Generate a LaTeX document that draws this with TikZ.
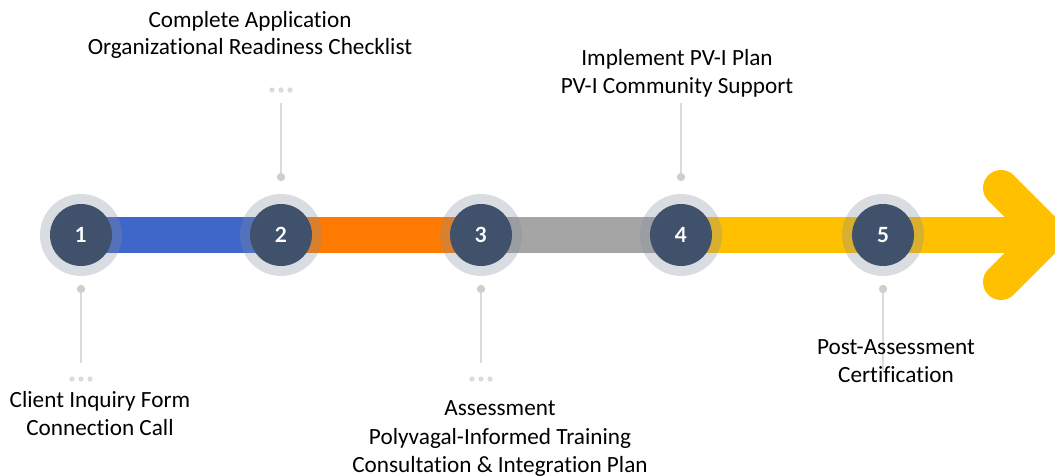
\documentclass[tikz,border=0pt]{standalone}
\usepackage{fontspec}
\setmainfont{Carlito}[Ligatures=NoCommon]
\newfontfamily\numfont{Lato}
\definecolor{cblue}{HTML}{3F67C9}
\definecolor{corange}{HTML}{FF7A00}
\definecolor{cgray}{HTML}{A5A5A5}
\definecolor{cyellow}{HTML}{FFC000}
\definecolor{cdark}{HTML}{40526B}
\definecolor{cring}{HTML}{828C9B}
\definecolor{cstem}{HTML}{DADADA}
\definecolor{cdot}{HTML}{CFCFCF}
\begin{document}
\begin{tikzpicture}[x=1bp,y=-1bp,
  ringnode/.style={circle,inner sep=0,minimum size=82bp,fill=cring,fill opacity=0.3},
  stepcircle/.style={circle,inner sep=0,minimum size=62bp,fill=cdark,text=white,
    font=\numfont\bfseries\fontsize{21}{21}\selectfont},
  stemline/.style={draw=cstem,line width=2.6bp},
  enddot/.style={fill=cdot},
  smalldot/.style={fill=cstem},
  label/.style={anchor=base,inner sep=0,text=black,font=\fontsize{23.3}{27}\selectfont}]
\useasboundingbox (0,0) rectangle (1055,476);
\begin{scope}
\clip (0,0) rectangle (1055,476);
\fill[cblue] (81,217) rectangle (281,253);
\fill[corange] (281,217) rectangle (481,253);
\fill[cgray] (481,217) rectangle (681,253);
\fill[cyellow] (681,217) rectangle (1030,253);
\draw[cyellow,line width=36bp,line cap=round,line join=miter] (1001,188) -- (1048,235) -- (1001,282);
\end{scope}
% rings and circles
\foreach \x in {81,281,481,681,883} \node[ringnode] at (\x,235) {};
\node[stepcircle] (s1) at (81,235) {1};
\node[stepcircle] (s2) at (281,235) {2};
\node[stepcircle] (s3) at (481,235) {3};
\node[stepcircle] (s4) at (681,235) {4};
\node[stepcircle] (s5) at (883,235) {5};
% stems
\coordinate (a1) at (81,289);  \coordinate (b1) at (81,363);
\coordinate (a2) at (281,177); \coordinate (b2) at (281,103);
\coordinate (a3) at (481,289); \coordinate (b3) at (481,363);
\coordinate (a4) at (681,177); \coordinate (b4) at (681,103);
\coordinate (a5) at (883,289); \coordinate (b5) at (883,370);
\foreach \i in {1,...,5} {
  \draw[stemline] (a\i) -- (b\i);
  \fill[enddot] (a\i) circle (4.2bp);
}
\foreach \x in {72,81,90} \fill[smalldot] (\x,379) circle (2.6bp);
\foreach \x in {272,281,290} \fill[smalldot] (\x,90) circle (2.6bp);
\foreach \x in {472,481,490} \fill[smalldot] (\x,379) circle (2.6bp);
% labels
\node[label] (t2a) at (250,28) {Complete Application};
\node[label] (t2b) at (250,55) {Organizational Readiness Checklist};
\node[label] (t4a) at (677,66) {Implement PV-I Plan};
\node[label] (t4b) at (677,94) {PV-I Community Support};
\node[label] (t1a) at (100,408) {Client Inquiry Form};
\node[label] (t1b) at (100,435) {Connection Call};
\node[label] (t3a) at (500,416) {Assessment};
\node[label] (t3b) at (500,444) {Polyvagal-Informed Training};
\node[label] (t3c) at (500,472) {Consultation \& Integration Plan};
\node[label] (t5a) at (896,355) {Post-Assessment};
\node[label] (t5b) at (896,383) {Certification};
\end{tikzpicture}
\end{document}
